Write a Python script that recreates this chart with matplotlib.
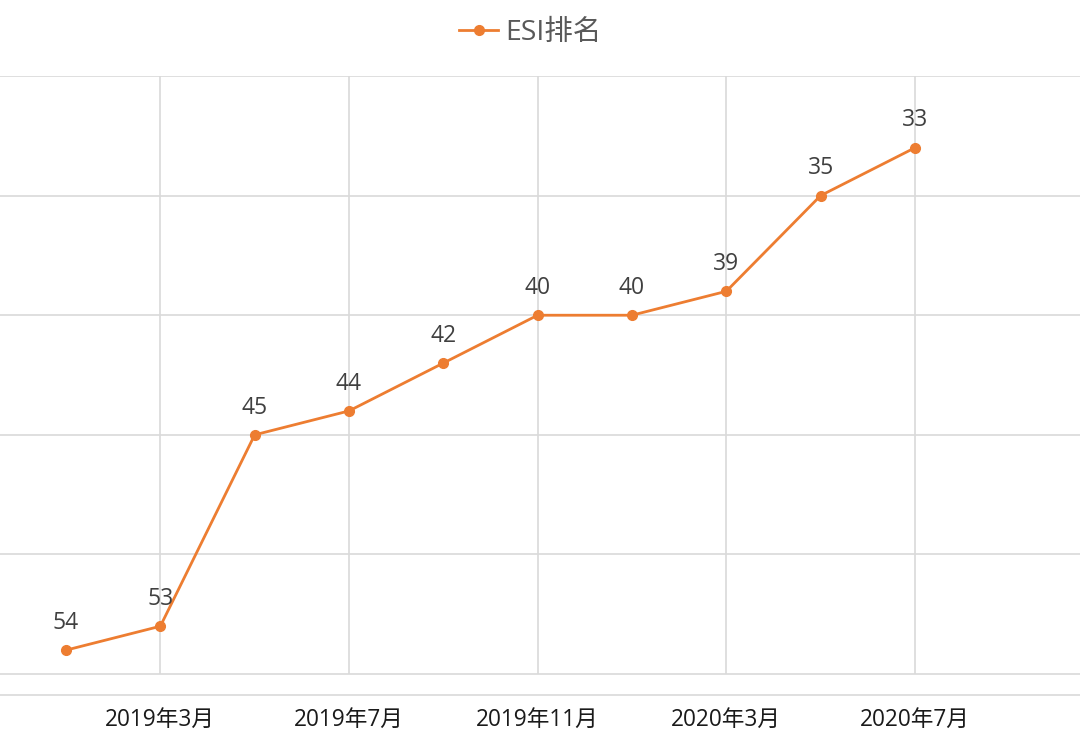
import matplotlib
matplotlib.use("Agg")
import matplotlib.pyplot as plt
import numpy as np

plt.rcParams['font.family'] = ['Open Sans', 'Noto Sans CJK SC', 'DejaVu Sans']

months = ["2019年1月", "2019年3月", "2019年5月", "2019年7月", "2019年9月",
          "2019年11月", "2020年1月", "2020年3月", "2020年5月", "2020年7月"]
ranks = [54, 53, 45, 44, 42, 40, 40, 39, 35, 33]
series_name = "ESI排名"

color = "#ED7D31"
grid_c = "#D9D9D9"

fig = plt.figure(figsize=(10.8, 7.45), dpi=100)
ax = fig.add_axes([0, 1 - 695 / 745, 1, (695 - 76) / 745])

x = np.arange(len(months))
line, = ax.plot(x, ranks, color=color, lw=2, marker='o', ms=7, label=series_name, zorder=3)
for xi, r in zip(x, ranks):
    ax.annotate(str(r), (xi, r), xytext=(0, 11), textcoords='offset points',
                ha='center', va='bottom', fontsize=16.5, color='#404040')

ax.set_ylim(55.875, 30)
ax.set_xlim(-0.7, 10.75)
ax.set_yticks([30, 35, 40, 45, 50, 55])
ax.yaxis.grid(True, color=grid_c, lw=1.2)
ax.tick_params(axis='y', left=False, labelleft=False)
ax.vlines(x[1::2], 30, 55, color=grid_c, lw=1.2, zorder=1)
ax.set_xticks(x[1::2])
ax.set_xticklabels(months[1::2], fontsize=16.3, color='#1a1a1a')
ax.tick_params(axis='x', length=0, pad=9)
for s in ['top', 'left', 'right']:
    ax.spines[s].set_visible(False)
ax.spines['bottom'].set_color(grid_c)
ax.spines['bottom'].set_linewidth(1.2)
ax.set_axisbelow(True)

fig.legend(handles=[line], loc='center', bbox_to_anchor=(0.491, 1 - 33 / 745),
           frameon=False, fontsize=20.5, labelcolor='#595959', handlelength=1.4,
           handletextpad=0.25)

fig.savefig("out.png", dpi=100)
